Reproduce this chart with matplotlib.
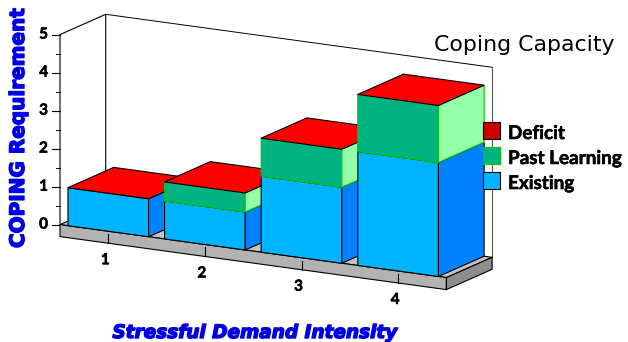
import matplotlib
matplotlib.use("Agg")
import matplotlib.pyplot as plt
import matplotlib.patheffects as pe
from matplotlib.patches import Polygon, Rectangle

categories = ["1", "2", "3", "4"]
existing = [1.0, 1.0, 2.0, 3.0]
past_learning = [0.0, 0.5, 1.0, 1.5]
deficit = [0.0, 0.0, 0.0, 0.0]
value_ticks = [0, 1, 2, 3, 4, 5]
minor_ticks = [0.5, 1.5, 2.5, 3.5, 4.5]
legend_names = ["Deficit", "Past Learning", "Existing"]
legend_colors = ["#cc0000", "#00b482", "#00b4ff"]

W, H = 628, 342
BAR_W = 0.835
LW = 0.8


def project(cat, val, depth=0.0):
    # oblique projection: category, value, depth (0 front, 1 back) to pixels
    x = 60 + 96.6 * (cat - 0.5) + 45.7 * depth
    y = 224.6 + 13.25 * (cat - 0.5) - 38.0 * val - 20.3 * depth
    return x, y


def face(ax, pts, fc, ec="black", lw=LW, z=2):
    ax.add_patch(Polygon(pts, closed=True, fc=fc, ec=ec, lw=lw, zorder=z, joinstyle="round"))


def box(ax, cat, v0, v1, front, side, ec, z):
    l, r = cat - BAR_W / 2, cat + BAR_W / 2
    face(ax, [project(l, v0), project(r, v0), project(r, v1), project(l, v1)], front, ec, LW, z)
    face(ax, [project(r, v0), project(r, v0, 1), project(r, v1, 1), project(r, v1)], side, ec, LW, z)


def heavy(width, color):
    return [pe.withStroke(linewidth=width, foreground=color)]


fig = plt.figure(figsize=(W / 100, H / 100), dpi=100)
ax = fig.add_axes([0, 0, 1, 1])
ax.set_xlim(0, W)
ax.set_ylim(H, 0)
ax.axis("off")

# walls
ax.plot(*zip(project(0.5, 0), project(0.5, 5), project(0.5, 5, 1), project(0.5, 0, 1)),
        color="black", lw=LW, zorder=1)
ax.plot(*zip(project(0.5, 5, 1), project(4.5, 5, 1)), color="black", lw=0.7, zorder=1)
ax.plot(*zip(project(4.5, 5, 1), project(4.5, 0, 1)), color="#555555", lw=LW, zorder=1)

# value axis ticks
for v in value_ticks:
    x, y = project(0.5, v)
    ax.plot([x - 8, x], [y, y], color="black", lw=LW, zorder=1)
    ax.text(x - 12, y, str(v), ha="right", va="center", fontsize=11,
            fontfamily="Lato", fontweight="bold", color="black",
            path_effects=heavy(0.4, "black"))
for v in minor_ticks:
    x, y = project(0.5, v)
    ax.plot([x - 4, x], [y, y], color="black", lw=0.7, zorder=1)

# floor slab
slab = 12 / 38.0
face(ax, [project(0.5, 0), project(4.5, 0), project(4.5, 0, 1), project(0.5, 0, 1)], "#c4c4c4", "black", LW, 1.5)
face(ax, [project(0.5, 0), project(4.5, 0), project(4.5, -slab), project(0.5, -slab)], "#b2b2b2", "black", LW, 1.6)
face(ax, [project(4.5, 0), project(4.5, 0, 1), project(4.5, -slab, 1), project(4.5, -slab)], "#8e8e8e", "black", LW, 1.6)

# category ticks and labels
for i, name in enumerate(categories):
    c = i + 1
    x0, y0 = project(c, 0)
    ax.plot([x0, x0], [y0 + 3, y0 + 12], color="black", lw=LW, zorder=1.7)
    ax.text(x0 - 3, y0 + 29, name, ha="center", va="center", fontsize=11,
            fontfamily="Lato", fontweight="bold", color="black",
            path_effects=heavy(0.4, "black"))

# stacked bars, painted left to right so later ones cover earlier ones
for i in range(len(categories)):
    c = i + 1
    z = 3 + i
    e, p, d = existing[i], past_learning[i], deficit[i]
    box(ax, c, 0, e, "#00b4ff", "#0082ff", "black", z)
    if p > 0:
        box(ax, c, e, e + p, "#00b482", "#96ffaa", "#00c800", z)
    top = e + p + d
    l, r = c - BAR_W / 2, c + BAR_W / 2
    face(ax, [project(l, top), project(r, top), project(r, top, 1), project(l, top, 1)], "#ff0000", "black", LW, z)

# legend
for name, col, y in zip(legend_names, legend_colors, [122, 147, 172]):
    edge = "#00c800" if name == "Past Learning" else "black"
    ax.add_patch(Rectangle((483, y), 16.5, 16.5, fc=col, ec=edge, lw=LW, zorder=9))
    ax.text(508, y + 11.5, name, ha="left", va="center", fontsize=13.6,
            fontfamily="Lato", fontweight="bold", color="black",
            path_effects=heavy(0.4, "black"))

ax.text(434, 45, "Coping Capacity", ha="left", va="center", fontsize=15.8,
        fontfamily="DejaVu Sans", color="black")
ax.text(18.5, 128, "COPING Requirement", rotation=90, ha="center", va="center", fontsize=14.4,
        fontfamily="DejaVu Sans", fontweight="bold", color="#0000e6",
        path_effects=heavy(1.0, "#0000e6"))
ax.text(255, 333, "Stressful Demand Intensity", ha="center", va="center", fontsize=13.3,
        fontfamily="DejaVu Sans", fontweight="bold", fontstyle="italic", color="#0000e6",
        path_effects=heavy(1.0, "#0000e6"))

fig.savefig("out.png", dpi=100)
